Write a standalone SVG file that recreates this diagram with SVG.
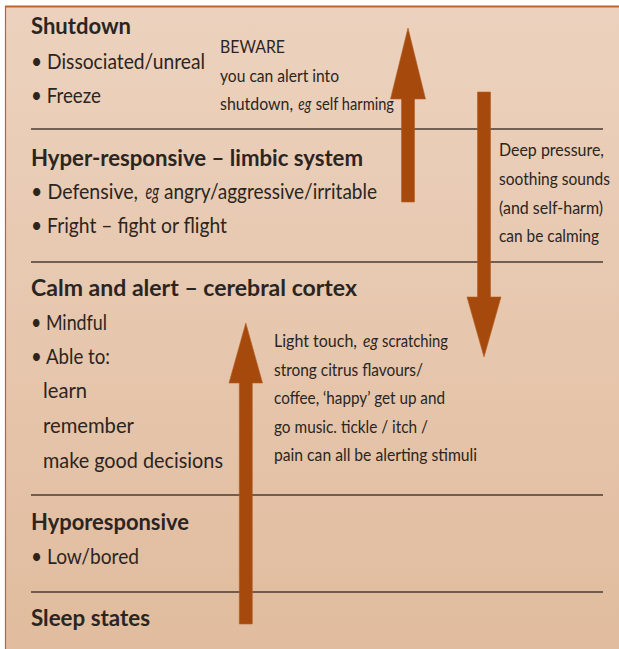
<svg xmlns="http://www.w3.org/2000/svg" width="619" height="649" viewBox="0 0 619 649">
<style>
text{font-family:Lato,"Liberation Sans",sans-serif;fill:#2b2522}
.h{font-weight:bold;font-size:22.5px}
.b{font-size:21.5px}
.bd{font-size:20.5px}
.s{font-size:16.5px}
.i{font-style:italic}
.rule{stroke:#4a3b34;stroke-width:1.5}
.arrow{fill:#a54a0c;stroke:#b45e25;stroke-width:0.6}
</style>
<defs>
<linearGradient id="bg" x1="0" y1="0" x2="0" y2="1">
<stop offset="0" stop-color="#ecd2be"/>
<stop offset="1" stop-color="#e1bc9e"/>
</linearGradient>
</defs>
<rect x="0" y="0" width="619" height="649" fill="#ffffff"/>
<rect x="5" y="6" width="614" height="643" fill="url(#bg)"/>
<line x1="5" y1="6.5" x2="619" y2="6.5" stroke="#c0622a" stroke-width="2"/>
<line x1="5.5" y1="6" x2="5.5" y2="649" stroke="#c0622a" stroke-width="1.2"/>

<g id="dividers">
<line class="rule" x1="31" y1="129" x2="603" y2="129"/>
<line class="rule" x1="31" y1="262" x2="603" y2="262"/>
<line class="rule" x1="31" y1="495" x2="603" y2="495"/>
<line class="rule" x1="31" y1="592" x2="603" y2="592"/>
</g>

<g id="connectors">
<polygon class="arrow" points="401.5,202 414.5,202 414.5,99 425.5,99 408,28 390.5,99 401.5,99"/>
<polygon class="arrow" points="477.5,92 490.5,92 490.5,297 501,297 484,357 467,297 477.5,297"/>
<polygon class="arrow" points="239.3,624 252.3,624 252.3,383 262.5,383 245.8,323 229,383 239.3,383"/>
</g>

<g id="shutdown">
<text class="h" x="31" y="34" textLength="100" lengthAdjust="spacingAndGlyphs">Shutdown</text>
<text class="b" x="31" y="69" textLength="174" lengthAdjust="spacingAndGlyphs">• Dissociated/unreal</text>
<text class="b" x="31" y="103" textLength="70" lengthAdjust="spacingAndGlyphs">• Freeze</text>
</g>

<g id="beware-note">
<text class="s" x="220" y="53" textLength="65" lengthAdjust="spacingAndGlyphs">BEWARE</text>
<text class="s" x="220" y="82" textLength="119" lengthAdjust="spacingAndGlyphs">you can alert into</text>
<text class="s" x="220" y="110" textLength="73" lengthAdjust="spacingAndGlyphs">shutdown,</text>
<text class="s i" x="298.3" y="110" textLength="13" lengthAdjust="spacingAndGlyphs">eg</text>
<text class="s" x="315.7" y="110" textLength="78.3" lengthAdjust="spacingAndGlyphs">self harming</text>
</g>

<g id="hyper-responsive">
<text class="h" x="31" y="166" textLength="332" lengthAdjust="spacingAndGlyphs">Hyper-responsive – limbic system</text>
<text class="bd" x="31" y="199" textLength="107" lengthAdjust="spacingAndGlyphs">• Defensive,</text>
<text class="bd i" x="145.5" y="199" textLength="13.5" lengthAdjust="spacingAndGlyphs">eg</text>
<text class="bd" x="164" y="199" textLength="213" lengthAdjust="spacingAndGlyphs">angry/aggressive/irritable</text>
<text class="b" x="31" y="233" textLength="196" lengthAdjust="spacingAndGlyphs">• Fright – fight or flight</text>
</g>

<g id="calming-note">
<text class="s" x="499" y="156" textLength="105" lengthAdjust="spacingAndGlyphs">Deep pressure,</text>
<text class="s" x="499" y="185" textLength="111" lengthAdjust="spacingAndGlyphs">soothing sounds</text>
<text class="s" x="499" y="214" textLength="104" lengthAdjust="spacingAndGlyphs">(and self-harm)</text>
<text class="s" x="499" y="242" textLength="100" lengthAdjust="spacingAndGlyphs">can be calming</text>
</g>

<g id="calm-alert">
<text class="h" x="31" y="296" textLength="326" lengthAdjust="spacingAndGlyphs">Calm and alert – cerebral cortex</text>
<text class="b" x="31" y="330" textLength="76" lengthAdjust="spacingAndGlyphs">• Mindful</text>
<text class="b" x="31" y="364" textLength="79" lengthAdjust="spacingAndGlyphs">• Able to:</text>
<text class="b" x="43" y="398" textLength="44" lengthAdjust="spacingAndGlyphs">learn</text>
<text class="b" x="43" y="433" textLength="91" lengthAdjust="spacingAndGlyphs">remember</text>
<text class="b" x="43" y="468" textLength="180" lengthAdjust="spacingAndGlyphs">make good decisions</text>
</g>

<g id="alerting-note">
<text class="s" x="274" y="347" textLength="83" lengthAdjust="spacingAndGlyphs">Light touch,</text>
<text class="s i" x="363" y="347" textLength="15" lengthAdjust="spacingAndGlyphs">eg</text>
<text class="s" x="382" y="347" textLength="66" lengthAdjust="spacingAndGlyphs">scratching</text>
<text class="s" x="274" y="376" textLength="149" lengthAdjust="spacingAndGlyphs">strong citrus flavours/</text>
<text class="s" x="274" y="404" textLength="171" lengthAdjust="spacingAndGlyphs">coffee, ‘happy’ get up and</text>
<text class="s" x="274" y="433" textLength="154" lengthAdjust="spacingAndGlyphs">go music. tickle / itch /</text>
<text class="s" x="274" y="461" textLength="203" lengthAdjust="spacingAndGlyphs">pain can all be alerting stimuli</text>
</g>

<g id="hyporesponsive">
<text class="h" x="31" y="530" textLength="158" lengthAdjust="spacingAndGlyphs">Hyporesponsive</text>
<text class="b" x="31" y="564" textLength="108" lengthAdjust="spacingAndGlyphs">• Low/bored</text>
</g>

<g id="sleep">
<text class="h" x="31" y="626" textLength="119" lengthAdjust="spacingAndGlyphs">Sleep states</text>
</g>
</svg>
